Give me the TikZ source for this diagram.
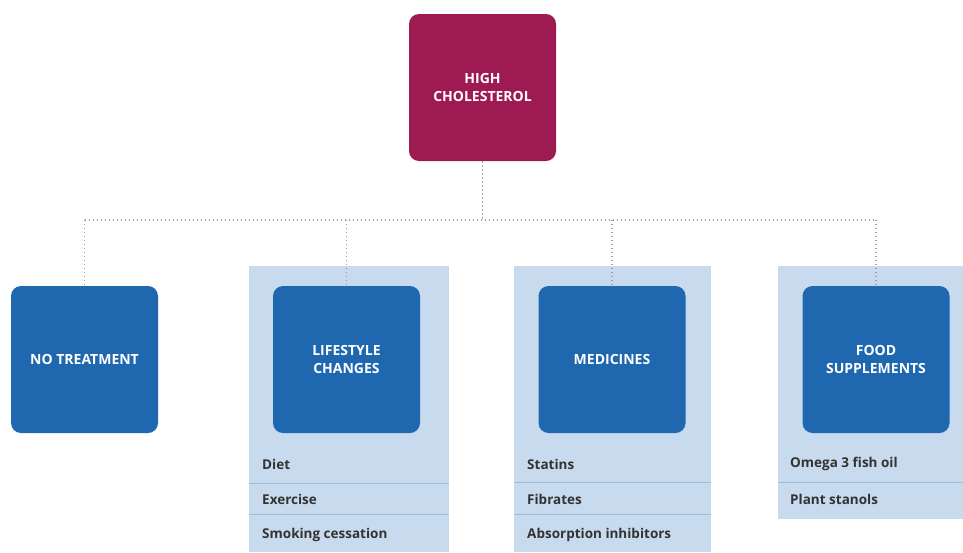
\documentclass[tikz,border=0pt]{standalone}
\usepackage{fontspec}
\setmainfont{Open Sans}
\begin{document}
\definecolor{rootred}{HTML}{9E1A52}
\definecolor{boxblue}{HTML}{1F68B0}
\definecolor{panelblue}{HTML}{C8DBEE}
\definecolor{rulebl}{HTML}{9CBEDD}
\definecolor{linkgray}{HTML}{A39C97}
\definecolor{itemtext}{HTML}{333333}
\begin{tikzpicture}[x=1pt,y=-1pt,
  boxnode/.style={draw=none,fill=boxblue,rounded corners=10pt,minimum width=147pt,minimum height=147pt,
    text=white,font=\bfseries\fontsize{14}{17.5}\selectfont,align=center,inner sep=0pt},
  rootnode/.style={boxnode,fill=rootred},
  panel/.style={fill=panelblue,draw=none},
  divider/.style={draw=rulebl,line width=0.8pt},
  item/.style={anchor=west,text=itemtext,font=\bfseries\fontsize{13.5}{16}\selectfont,inner sep=0pt},
  link/.style={draw=linkgray,line width=1.3pt,dash pattern=on 1.3pt off 2.7pt}]
\useasboundingbox (0,0) rectangle (963,552);
\fill[white] (0,0) rectangle (963,552);

% background panels holding each option and its list
\path[panel] (249,266) rectangle (449,552);
\path[panel] (514,266) rectangle (711,552);
\path[panel] (778,266) rectangle (963,519);

% dividers between list entries
\draw[divider] (249,483) -- (449,483);
\draw[divider] (249,514.5) -- (449,514.5);
\draw[divider] (514,482) -- (711,482);
\draw[divider] (514,514) -- (711,514);
\draw[divider] (778,482) -- (963,482);

% boxes
\node[rootnode] (root) at (482.5,87.5) {HIGH\\CHOLESTEROL};
\node[boxnode] (none) at (84.5,359.5) {NO TREATMENT};
\node[boxnode] (life) at (346.5,359.5) {LIFESTYLE\\CHANGES};
\node[boxnode] (med) at (612,359.5) {MEDICINES};
\node[boxnode] (food) at (876,359.5) {FOOD\\SUPPLEMENTS};

% connectors
\coordinate (hub) at (482.5,220);
\draw[link] (root.south) -- (hub);
\draw[link] (none.north |- hub) -- (food.north |- hub);
\foreach \b in {none,life,med,food}
  \draw[link] (\b.north |- hub) -- (\b.north);

% list entries
\node[item] (i1) at (262,464) {Diet};
\node[item] (i2) at (262,499) {Exercise};
\node[item] (i3) at (262,535) {Smoking cessation};
\node[item] (i4) at (527,464) {Statins};
\node[item] (i5) at (527,499) {Fibrates};
\node[item] (i6) at (527,535) {Absorption inhibitors};
\node[item] (i7) at (790,464) {Omega 3 fish oil};
\node[item] (i8) at (790,499) {Plant stanols};
\end{tikzpicture}
\end{document}
